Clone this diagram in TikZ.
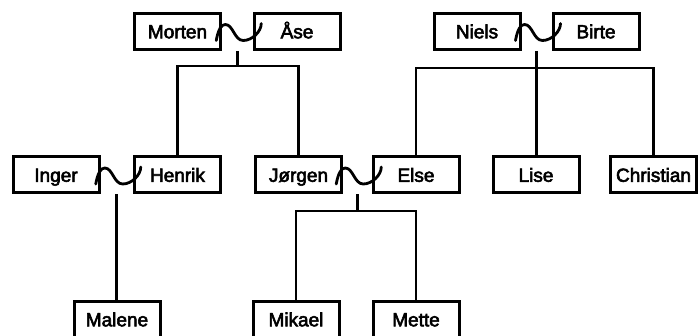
\documentclass[tikz,border=0pt]{standalone}
\usepackage{fontspec}
\setmainfont{Liberation Sans}
\newfontfamily\namefont[FakeBold=3]{Liberation Sans}
\usetikzlibrary{calc}
\begin{document}
\begin{tikzpicture}[x=1pt,y=-1pt,
  person/.style={draw, line width=3pt, minimum width=86pt, minimum height=36pt, inner sep=0pt, text height=17.6pt, text depth=4pt, font=\namefont\fontsize{19}{19}\selectfont},
  link/.style={line width=2.8pt},
  couplewave/.pic={\draw[line width=2.8pt, line cap=round] (-21,9) .. controls (-19,-2) and (-16,-7) .. (-12,-7) .. controls (-4,-7) and (-3,9) .. (6,9) .. controls (15,9) and (24,0) .. (24,-8);}]
\useasboundingbox (0,0) rectangle (698,336);
% row 1
\node[person] (morten) at (177.5,31.5) {Morten};
\node[person] (ase) at (297,31.5) {Åse};
\node[person] (niels) at (477,31.5) {Niels};
\node[person] (birte) at (596,31.5) {Birte};
% row 2
\node[person] (inger) at (56,175) {Inger};
\node[person] (henrik) at (177.5,175) {Henrik};
\node[person] (jorgen) at (298.5,175) {Jørgen};
\node[person] (else) at (416,175) {Else};
\node[person] (lise) at (536,175) {Lise};
\node[person] (christian) at (653.5,175) {Christian};
% row 3
\node[person] (malene) at (117,319.5) {Malene};
\node[person] (mikael) at (296,319.5) {Mikael};
\node[person] (mette) at (416,319.5) {Mette};
% couples
\coordinate (mA) at ($(morten.east)!0.5!(ase.west)$);
\coordinate (mB) at ($(niels.east)!0.5!(birte.west)$);
\coordinate (mC) at ($(inger.east)!0.5!(henrik.west)$);
\coordinate (mD) at ($(jorgen.east)!0.5!(else.west)$);
\path (mA) pic {couplewave};
\path (mB) pic {couplewave};
\path (mC) pic {couplewave};
\path (mD) pic {couplewave};
\coordinate (barA) at (mA |- 0,66);
\coordinate (barB) at (mB |- 0,68);
\coordinate (barD) at (mD |- 0,211);
% descent lines
\draw[link] (mA |- morten.south) -- (barA);
\draw[link] (henrik.north) |- (barA) -| (jorgen.north);
\draw[link] (mB |- niels.south) -- (mB |- lise.north);
\draw[link] (else.north) |- (barB) -| (christian.north);
\draw[link] (mC |- inger.south) -- (mC |- malene.north);
\draw[link] (mD |- jorgen.south) -- (barD);
\draw[link] (mikael.north) |- (barD) -| (mette.north);
\end{tikzpicture}
\end{document}
